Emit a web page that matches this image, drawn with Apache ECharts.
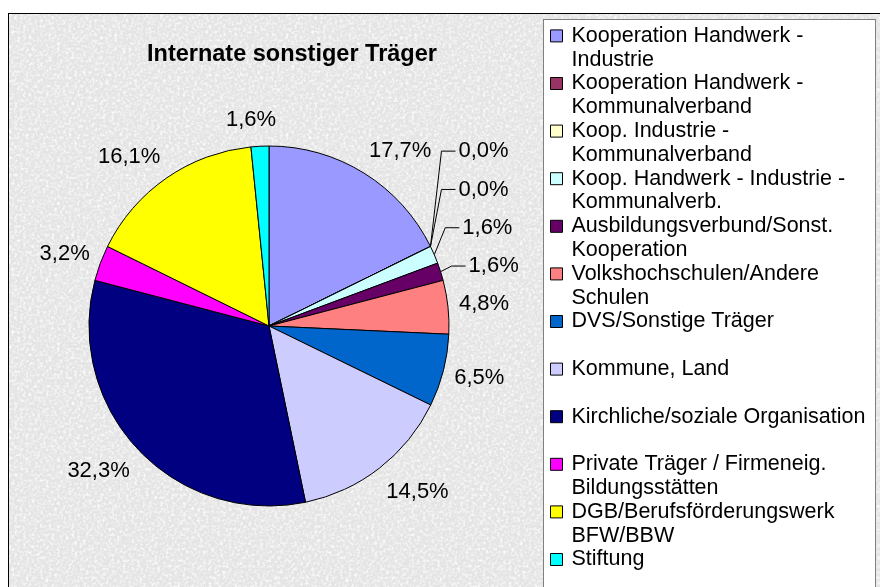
<!DOCTYPE html>
<html>
<head>
<meta charset="utf-8">
<script src="https://cdn.jsdelivr.net/npm/echarts/dist/echarts.min.js"></script>
<style>
    body { margin: 0; background: #fff; }
    #wrap { position: relative; width: 880px; height: 587px; overflow: hidden; }
    #frame {
        position: absolute; left: 8px; top: 13px; width: 900px; height: 600px;
        border-left: 1px solid #000; border-top: 1px solid #000;
        background-color: #e4e4e4;
        background-image: url("data:image/svg+xml;utf8,<svg xmlns='http://www.w3.org/2000/svg' width='300' height='300'><filter id='n'><feTurbulence type='fractalNoise' baseFrequency='0.35' numOctaves='3' stitchTiles='stitch'/><feColorMatrix values='0 0 0 0 1  0 0 0 0 1  0 0 0 0 1  0 0 0 -2.2 1.25'/></filter><rect width='300' height='300' filter='url(%23n)'/></svg>");
    }
    #legendbox {
        position: absolute; left: 543px; top: 19px; width: 331px; height: 620px;
        border: 1px solid #808080; background: #fff;
    }
    #main { position: absolute; left: 0; top: 0; width: 880px; height: 587px; }
</style>
</head>
<body>
<div id="wrap">
    <div id="frame"></div>
    <div id="legendbox"></div>
    <div id="main"></div>
</div>

<script type="text/javascript">

    var categories = [
        "Kooperation Handwerk - Industrie",
        "Kooperation Handwerk - Kommunalverband",
        "Koop. Industrie - Kommunalverband",
        "Koop. Handwerk - Industrie - Kommunalverb.",
        "Ausbildungsverbund/Sonst. Kooperation",
        "Volkshochschulen/Andere Schulen",
        "DVS/Sonstige Träger",
        "Kommune, Land",
        "Kirchliche/soziale Organisation",
        "Private Träger / Firmeneig. Bildungsstätten",
        "DGB/Berufsförderungswerk BFW/BBW",
        "Stiftung"
    ];
    // legend text, wrapped the way the original legend wraps it
    var legendLabels = [
        "Kooperation Handwerk -\nIndustrie",
        "Kooperation Handwerk -\nKommunalverband",
        "Koop. Industrie -\nKommunalverband",
        "Koop. Handwerk - Industrie -\nKommunalverb.",
        "Ausbildungsverbund/Sonst.\nKooperation",
        "Volkshochschulen/Andere\nSchulen",
        "DVS/Sonstige Träger\n",
        "Kommune, Land\n",
        "Kirchliche/soziale Organisation\n",
        "Private Träger / Firmeneig.\nBildungsstätten",
        "DGB/Berufsförderungswerk\nBFW/BBW",
        "Stiftung\n"
    ];
    // share in percent
    var shares = [17.7, 0.0, 0.0, 1.6, 1.6, 4.8, 6.5, 14.5, 32.3, 3.2, 16.1, 1.6];
    var colors = ['#9999FF', '#993366', '#FFFFCC', '#CCFFFF', '#660066', '#FF8080',
                  '#0066CC', '#CCCCFF', '#000080', '#FF00FF', '#FFFF00', '#00FFFF'];
    // slices whose label sits in a stack with a leader line
    var leaderLines = [1, 2, 3, 4];

    var font = "'Liberation Sans', Arial, sans-serif";
    var cx = 269, cy = 326, R = 180, lineLen = 6;
    var stackStep = 38.3;

    var total = shares.reduce(function (a, b) { return a + b; }, 0);

    // mid angle of a slice, clockwise from 12 o'clock
    function midAngle(i) {
        var s = 0;
        for (var j = 0; j < i; j++) s += shares[j];
        return (s + shares[i] / 2) / total * 2 * Math.PI;
    }
    // vertical nudge that puts labels a bit further out, like Excel does
    function nudgeY(i) {
        var uy = -Math.cos(midAngle(i));
        return (uy < 0 ? 20 : 24) * uy;
    }

    var pieData = shares.map(function (v, i) {
        var item = { name: categories[i], value: v, itemStyle: { color: colors[i] } };
        if (leaderLines.indexOf(i) >= 0) {
            item.labelLine = { show: true };
        }
        return item;
    });

    var ec = echarts.init(document.getElementById('main'));

    var option = {
        animation: false,
        title: {
            text: "Internate sonstiger Träger",
            left: 147,
            top: 43,
            padding: 0,
            textStyle: { fontFamily: font, fontSize: 23.5, fontWeight: 'bold', color: '#000' }
        },
        legend: {
            orient: 'vertical',
            left: 550,
            top: 0.2,
            height: 900,
            padding: 0,
            itemWidth: 12,
            itemHeight: 12,
            itemGap: -23.8,
            icon: 'rect',
            itemStyle: { borderColor: '#000', borderWidth: 1 },
            selectedMode: false,
            data: categories,
            formatter: function (name) {
                // empty first line keeps the marker level with the first text line
                return '\n' + legendLabels[categories.indexOf(name)];
            },
            textStyle: {
                fontFamily: font, fontSize: 21.5, lineHeight: 23.8, color: '#000',
                padding: [0, 0, 0, 4]
            }
        },
        series: [{
            name: "Internate",
            type: 'pie',
            center: [cx, cy],
            radius: R,
            startAngle: 90,
            clockwise: true,
            avoidLabelOverlap: false,
            itemStyle: { borderColor: '#000', borderWidth: 1 },
            label: {
                show: true,
                position: 'outside',
                color: '#000',
                fontFamily: font,
                fontSize: 22,
                formatter: function (p) {
                    return p.value.toFixed(1).replace('.', ',') + '%';
                }
            },
            labelLine: {
                show: false,
                length: lineLen,
                length2: 0,
                lineStyle: { color: '#000', width: 1 }
            },
            labelLayout: function (p) {
                var i = p.dataIndex;
                var a = midAngle(i);
                var k = leaderLines.indexOf(i);
                if (k < 0) {
                    // labels near the top or bottom get centred over their slice
                    var ux = Math.sin(a);
                    var dx = Math.pow(1 - Math.abs(ux), 3) * p.labelRect.width / 2 * (ux < 0 ? 1 : -1);
                    return { dx: dx, dy: nudgeY(i) };
                }
                // stack the small slices upward from the label of the next big slice
                var next = leaderLines[leaderLines.length - 1] + 1;
                var an = midAngle(next);
                var baseY = cy - (R + lineLen) * Math.cos(an) + nudgeY(next);
                var ly = baseY - (leaderLines.length - k) * stackStep;
                var ex = cx + R * Math.sin(a), ey = cy - R * Math.cos(a);
                var lx = ex + 28;
                return {
                    x: lx, y: ly, align: 'left', verticalAlign: 'middle',
                    labelLinePoints: [[ex, ey], [lx - 17, ly], [lx - 3, ly]]
                };
            },
            emphasis: { disabled: true },
            data: pieData
        }]
    };

    ec.setOption(option);
</script>
</body>
</html>
